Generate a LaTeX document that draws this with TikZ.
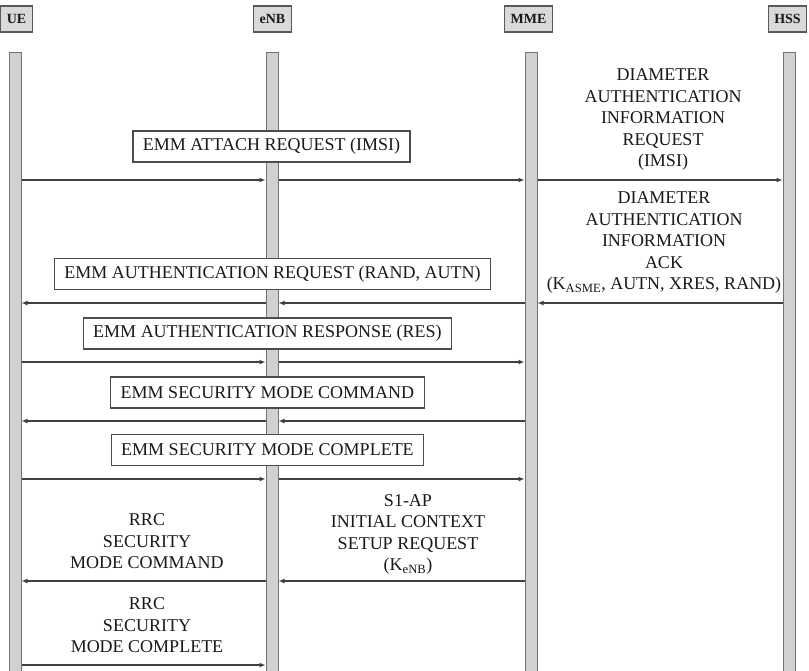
\documentclass[tikz,border=0pt]{standalone}
\usepackage{fontspec}
\setmainfont{Liberation Serif}
\usetikzlibrary{arrows.meta}
\begin{document}
\begin{tikzpicture}[x=1pt,y=-1pt,
  every node/.style={text=black!90},
  lifeline/.style={draw=black!55, fill=black!18, line width=1pt,
    minimum width=12pt, minimum height=640pt, inner sep=0pt},
  actor/.style={draw=black!65, fill=black!15, line width=1.2pt,
    minimum height=26pt, inner xsep=6pt, inner ysep=0pt,
    font=\fontsize{14}{16}\selectfont\bfseries},
  msgbox/.style={draw=black!70, fill=white, line width=1.2pt,
    minimum height=31pt, inner xsep=10pt, inner ysep=0pt,
    font=\fontsize{18}{21.5}\selectfont},
  lbl/.style={anchor=south, align=center, inner sep=0pt, text depth=0pt,
    font=\fontsize{18}{21.5}\selectfont},
  msg/.style={draw=black!75, line width=1.2pt, -{Latex[length=6pt,width=5pt]}},
]
\useasboundingbox (0,0) rectangle (809,670);
\fill[white] (0,0) rectangle (809,670);

% participants
\node[actor] (hUE)  at (16.5,19)  {UE};
\node[actor] (hENB) at (272.5,19) {eNB};
\node[actor] (hMME) at (528.5,19) {MME};
\node[actor] (hHSS) at (787.5,19) {HSS};

% lifelines
\node[lifeline] (ue)  at (15,372)  {};
\node[lifeline] (enb) at (272,372) {};
\node[lifeline] (mme) at (531,372) {};
\node[lifeline] (hss) at (789,372) {};

% NAS messages (boxed labels across the eNB)
\node[msgbox] (attach)   at (271.5,146.5) {EMM ATTACH REQUEST (IMSI)};
\node[msgbox] (authreq)  at (272.5,274)   {EMM AUTHENTICATION REQUEST (RAND, AUTN)};
\node[msgbox] (authresp) at (267.5,333.5) {EMM AUTHENTICATION RESPONSE (RES)};
\node[msgbox] (smc)      at (267.5,392.5) {EMM SECURITY MODE COMMAND};
\node[msgbox] (smcomp)   at (267.5,450)   {EMM SECURITY MODE COMPLETE};

% free-standing labels
\node[lbl] (diareq) at (663,167) {DIAMETER\\AUTHENTICATION\\INFORMATION\\REQUEST\\(IMSI)};
\node[lbl] (diaack) at (664,290) {DIAMETER\\AUTHENTICATION\\INFORMATION\\ACK\\(K\textsubscript{ASME}, AUTN, XRES, RAND)};
\node[lbl] (s1ap)   at (408,571) {S1-AP\\INITIAL CONTEXT\\SETUP REQUEST\\(K\textsubscript{eNB})};
\node[lbl] (rrccmd) at (147,569) {RRC\\SECURITY\\MODE COMMAND};
\node[lbl] (rrccmp) at (147,653) {RRC\\SECURITY\\MODE COMPLETE};

% attach request
\draw[msg] (ue.east |- 0,180)  -- (enb.west |- 0,180);
\draw[msg] (enb.east |- 0,180) -- (mme.west |- 0,180);
\draw[msg] (mme.east |- 0,180) -- (hss.west |- 0,180);
% authentication info answer and authentication request
\draw[msg] (hss.west |- 0,303) -- (mme.east |- 0,303);
\draw[msg] (mme.west |- 0,303) -- (enb.east |- 0,303);
\draw[msg] (enb.west |- 0,303) -- (ue.east |- 0,303);
% authentication response
\draw[msg] (ue.east |- 0,362)  -- (enb.west |- 0,362);
\draw[msg] (enb.east |- 0,362) -- (mme.west |- 0,362);
% NAS security mode command
\draw[msg] (mme.west |- 0,421) -- (enb.east |- 0,421);
\draw[msg] (enb.west |- 0,421) -- (ue.east |- 0,421);
% NAS security mode complete
\draw[msg] (ue.east |- 0,479)  -- (enb.west |- 0,479);
\draw[msg] (enb.east |- 0,479) -- (mme.west |- 0,479);
% initial context setup and RRC security mode command
\draw[msg] (mme.west |- 0,581) -- (enb.east |- 0,581);
\draw[msg] (enb.west |- 0,581) -- (ue.east |- 0,581);
% RRC security mode complete
\draw[msg] (ue.east |- 0,665)  -- (enb.west |- 0,665);
\end{tikzpicture}
\end{document}
